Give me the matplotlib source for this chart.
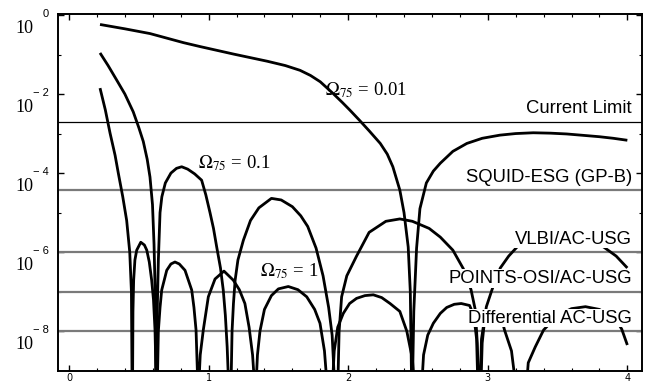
import matplotlib
matplotlib.use("Agg")
import matplotlib.pyplot as plt
import numpy as np
from matplotlib.ticker import FixedLocator, NullFormatter
from matplotlib.transforms import blended_transform_factory

plt.rcParams['mathtext.fontset'] = 'stix'

# ---------------- data (x, log10 of value) ----------------
x_om001 = [0.222, 0.40, 0.58, 0.82, 0.94, 1.18, 1.42, 1.55, 1.655, 1.73, 1.80, 1.89, 1.96, 2.013, 2.08, 2.15,
           2.23, 2.28, 2.32, 2.37, 2.40, 2.43, 2.445, 2.455, 2.46, 2.47, 2.49, 2.514, 2.56, 2.61,
           2.66, 2.75, 2.85, 2.96, 3.087, 3.20, 3.326, 3.45, 3.565, 3.70, 3.80, 3.90, 4.00]
e_om001 = [-0.24, -0.35, -0.47, -0.70, -0.80, -0.99, -1.17, -1.28, -1.40, -1.53, -1.69, -1.98, -2.22, -2.41, -2.66, -2.93,
           -3.25, -3.52, -3.84, -4.43, -5.0, -5.87, -7.0, -9.5, -9.5, -7.5, -5.9, -4.9, -4.25, -3.95,
           -3.75, -3.45, -3.25, -3.12, -3.04, -3.00, -2.98, -2.99, -3.01, -3.05, -3.08, -3.12, -3.17]

x_om01 = [0.222, 0.28, 0.342, 0.40, 0.46, 0.50, 0.532, 0.56, 0.58, 0.598, 0.609, 0.617, 0.623,
          0.628, 0.632, 0.64, 0.652, 0.665, 0.69, 0.73, 0.77, 0.807, 0.85, 0.90, 0.95, 0.98, 1.01,
          1.035, 1.058, 1.085, 1.105, 1.12, 1.133, 1.145,
          1.16, 1.168, 1.178, 1.19, 1.21, 1.249, 1.30, 1.36, 1.45, 1.52, 1.60, 1.66, 1.71, 1.77,
          1.82, 1.86, 1.885, 1.905,
          1.925, 1.935, 1.953, 1.99, 2.06, 2.15, 2.27, 2.37, 2.46, 2.58, 2.66, 2.75, 2.825, 2.88,
          2.91, 2.925, 2.935,
          2.945, 2.955, 2.99, 3.04, 3.09, 3.15, 3.21, 3.35, 3.52, 3.68, 3.83, 3.92, 4.00]
e_om01 = [-0.96, -1.28, -1.65, -2.0, -2.45, -2.85, -3.2, -3.65, -4.1, -4.8, -5.8, -7.0, -9.5,
          -9.5, -7.5, -6.2, -5.0, -4.6, -4.25, -4.0, -3.88, -3.84, -3.9, -4.02, -4.18, -4.55, -5.0,
          -5.4, -5.87, -6.4, -6.96, -7.6, -8.4, -9.5,
          -9.5, -8.0, -7.3, -6.71, -6.2, -5.7, -5.2, -4.88, -4.64, -4.68, -4.85, -5.08, -5.35, -5.9,
          -6.6, -7.4, -8.1, -9.5,
          -9.5, -8.0, -7.13, -6.6, -6.1, -5.5, -5.22, -5.16, -5.22, -5.4, -5.62, -5.95, -6.42, -6.95,
          -7.45, -8.3, -9.5,
          -9.5, -8.2, -7.38, -6.85, -6.4, -6.1, -5.87, -5.62, -5.55, -5.62, -5.87, -6.1, -6.4]

x_om1 = [0.222, 0.26, 0.294, 0.33, 0.353, 0.385, 0.413, 0.435, 0.447, 0.452,
         0.455, 0.458, 0.463, 0.472, 0.485, 0.514, 0.54, 0.557, 0.575, 0.592, 0.605, 0.616, 0.626,
         0.632, 0.64, 0.652, 0.664, 0.70, 0.73, 0.759, 0.79, 0.831, 0.879, 0.895, 0.91, 0.924,
         0.928, 0.94, 0.962, 0.998, 1.046, 1.11, 1.177, 1.22, 1.26, 1.29, 1.315, 1.332,
         1.338, 1.35, 1.368, 1.40, 1.45, 1.50, 1.571, 1.64, 1.703, 1.76, 1.798, 1.83, 1.852,
         1.885, 1.90, 1.925, 1.965, 2.01, 2.06, 2.12, 2.18, 2.24, 2.30, 2.37, 2.42, 2.46, 2.478,
         2.525, 2.54, 2.57, 2.61, 2.66, 2.706, 2.76, 2.81, 2.87, 2.90, 2.92, 2.93,
         2.95, 2.96, 2.975, 3.0, 3.06, 3.10, 3.12, 3.17, 3.205,
         3.275, 3.29, 3.34, 3.40, 3.50, 3.60, 3.70, 3.80, 3.92, 3.96, 4.00]
e_om1 = [-1.85, -2.4, -2.99, -3.55, -4.0, -4.6, -5.2, -6.0, -7.0, -9.5,
         -9.5, -7.5, -6.71, -6.2, -5.95, -5.75, -5.82, -5.95, -6.25, -6.71, -7.2, -7.97, -9.5,
         -9.5, -8.0, -7.4, -6.96, -6.46, -6.3, -6.25, -6.3, -6.46, -6.96, -7.4, -7.97, -9.5,
         -9.5, -8.6, -7.97, -7.13, -6.68, -6.48, -6.71, -6.95, -7.3, -7.9, -8.6, -9.5,
         -9.5, -8.6, -8.0, -7.45, -7.1, -6.93, -6.87, -6.95, -7.13, -7.45, -7.8, -8.5, -9.5,
         -9.5, -8.5, -7.9, -7.55, -7.3, -7.17, -7.1, -7.08, -7.15, -7.3, -7.5, -8.0, -8.7, -9.5,
         -9.5, -8.6, -8.1, -7.8, -7.55, -7.4, -7.32, -7.3, -7.35, -7.6, -8.2, -9.5,
         -9.5, -8.3, -7.8, -7.6, -7.55, -7.7, -7.97, -8.5, -9.5,
         -9.5, -8.8, -8.4, -7.97, -7.6, -7.43, -7.38, -7.45, -7.72, -7.95, -8.35]

limit_names = ["Current Limit", "SQUID-ESG (GP-B)", "VLBI/AC-USG", "POINTS-OSI/AC-USG",
               "Differential AC-USG"]
limit_exp = [-2.70, -4.43, -6.0, -7.0, -8.0]

omega_labels = [r"$\Omega_{75}$ = 0.01", r"$\Omega_{75}$ = 0.1", r"$\Omega_{75}$ = 1"]
omega_label_pos = [(1.834, -2.03), (0.924, -3.87), (1.368, -6.62)]

ytick_exp = [0, -2, -4, -6, -8]
xtick_vals = [0, 1, 2, 3, 4]

# ---------------- figure ----------------
W, H = 659, 383
fig = plt.figure(figsize=(W / 100, H / 100), dpi=100)
ax = fig.add_axes([58 / W, (H - 370.7) / H, 584 / W, (370.7 - 14) / H])
ax.set_yscale('log')
ax.set_xlim(-0.079, 4.105)
ax.set_ylim(1e-9, 10 ** 0.025)

# horizontal limit lines
for i, e in enumerate(limit_exp):
    if i == 0:
        ax.axhline(10 ** e, color='black', lw=0.9, zorder=2)
    else:
        ax.axhline(10 ** e, color='#7a7a7a', lw=1.6, zorder=2)

# curves
for xs, es in [(x_om001, e_om001), (x_om01, e_om01), (x_om1, e_om1)]:
    ax.plot(xs, 10 ** np.array(es), color='black', lw=2.0, solid_joinstyle='round',
            solid_capstyle='butt', zorder=3)

# limit labels (white background hides curves behind them)
tr = blended_transform_factory(ax.transAxes, ax.transData)
for name, e in zip(limit_names, limit_exp):
    ax.text(0.983, 10 ** (e + 0.33), name,
            transform=tr, ha='right', va='center',
            fontsize=13.3, family='Liberation Sans', zorder=5,
            bbox=dict(facecolor='white', edgecolor='none', pad=0.5))

# omega labels
for lab, (xx, ee) in zip(omega_labels, omega_label_pos):
    ax.text(xx, 10 ** ee, lab, ha='left', va='baseline', fontsize=13.5,
            family='Liberation Serif', zorder=6)

# ticks
ax.set_xticks(xtick_vals)
ax.set_xticklabels([str(v) for v in xtick_vals], fontsize=7, family='DejaVu Sans')
ax.xaxis.set_minor_locator(FixedLocator(np.arange(0, 4.11, 0.2)))
ax.yaxis.set_major_locator(FixedLocator([10.0 ** k for k in ytick_exp]))
ax.yaxis.set_minor_locator(FixedLocator([10.0 ** k for k in [-1, -3, -5, -7]]))
ax.yaxis.set_major_formatter(NullFormatter())
ax.yaxis.set_minor_formatter(NullFormatter())
ax.tick_params(axis='both', which='major', direction='in', length=4, width=1,
               top=True, right=True, pad=1.5)
ax.tick_params(axis='both', which='minor', direction='in', length=2, width=0.8,
               top=True, right=True)

for k in ytick_exp:
    ax.annotate("10", xy=(0, 10.0 ** k), xycoords=tr, xytext=(-17.5, -9.5),
                textcoords='offset points', ha='right', va='center',
                fontsize=13, family='Liberation Serif')
    ax.annotate(str(k).replace('-', '\u2212 '), xy=(0, 10.0 ** k), xycoords=tr, xytext=(-6.5, 0.5),
                textcoords='offset points', ha='right', va='center',
                fontsize=8, family='Liberation Sans')

for s in ax.spines.values():
    s.set_linewidth(1.4)

fig.savefig("out.png", dpi=100)
